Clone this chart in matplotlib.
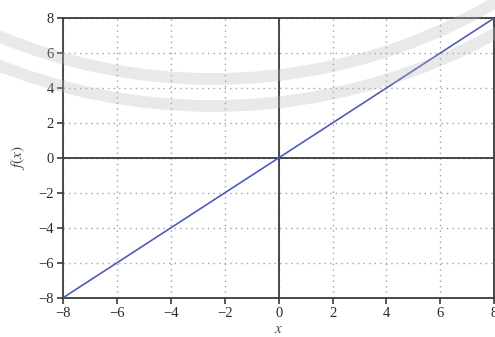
import matplotlib.pyplot as plt
from matplotlib.patches import Circle

# values
x_vals = [-8, -4, 0, 4, 8]
fx_vals = [-8, -4, 0, 4, 8]
ticks = [-8, -6, -4, -2, 0, 2, 4, 6, 8]

plt.rcParams['font.family'] = ['Liberation Serif', 'DejaVu Serif']
plt.rcParams['mathtext.fontset'] = 'stix'

fig = plt.figure(figsize=(4.95, 3.37), dpi=100)
ax = fig.add_axes([0.128, 0.117, 0.870, 0.829])

dark = '#3a3a3a'
ax.grid(True, color='#a0a0a0', linestyle=(0, (1, 3)), linewidth=1.0)
ax.axhline(0, color=dark, lw=1.3, zorder=2)
ax.axvline(0, color=dark, lw=1.3, zorder=2)
ax.plot(x_vals, fx_vals, color='#4d5cb8', lw=1.2, zorder=3)

ax.set_xlim(-8, 8)
ax.set_ylim(-8, 8)
ax.set_xticks(ticks)
ax.set_yticks(ticks)
ax.tick_params(direction='out', length=4, width=1.2, color=dark,
               labelsize=10.5, labelcolor='#2a2a2a', pad=3)
for s in ax.spines.values():
    s.set_color(dark)
    s.set_linewidth(1.3)

ax.set_xlabel('$x$', fontsize=11, color='#444444', labelpad=2)
ax.set_ylabel('$f(x)$', fontsize=11, color='#444444', labelpad=8)

# faint watermark rings over the chart
wm = fig.add_axes([0, 0, 1, 1])
wm.set_xlim(0, 495)
wm.set_ylim(337, 0)
wm.axis('off')
wm.patch.set_alpha(0)
for r in [559, 586]:
    wm.add_patch(Circle((213, -480), r, fill=False, lw=8.5,
                        color='#b8b8b8', alpha=0.3))

fig.savefig('out.png', dpi=100)
